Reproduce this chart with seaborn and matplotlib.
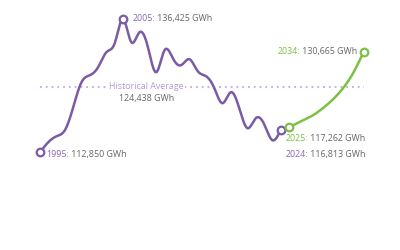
import numpy as np
import pandas as pd
import matplotlib
matplotlib.use("Agg")
import matplotlib.pyplot as plt
import seaborn as sns

# ---- data ----
hist_years = list(range(1995, 2025))
hist_values = [112850, 114620, 115680, 116750, 120800, 125240, 126480, 127900,
               130550, 132140, 136425, 132320, 134090, 131440, 127010, 130900,
               129490, 128250, 129310, 127190, 126300, 124180, 121520, 123470,
               120640, 117100, 118870, 117810, 114970, 116813]
fc_years = list(range(2025, 2035))
fc_values = [117262, 117980, 118690, 119490, 120550, 121790, 123290, 125150,
             127600, 130665]
avg_value = 124438

PURPLE = "#7b5aa6"
PURPLE_TXT = "#8a68b4"
GREEN = "#7cc143"
AVG_COL = "#c3a9dc"
GRAY = "#666666"


def smooth(xs, ys, n=20):
    """Natural cubic spline through the data points (for drawing only)."""
    xs = np.asarray(xs, float)
    ys = np.asarray(ys, float)
    k = len(xs)
    A = np.zeros((k, k))
    b = np.zeros(k)
    A[0, 0] = A[-1, -1] = 1
    for i in range(1, k - 1):
        A[i, i - 1], A[i, i], A[i, i + 1] = 1, 4, 1
        b[i] = 6 * (ys[i + 1] - 2 * ys[i] + ys[i - 1])
    M = np.linalg.solve(A, b)
    ox, oy = [], []
    t = np.linspace(0, 1, n, endpoint=False)
    for i in range(k - 1):
        s = 1 - t
        ox.extend(xs[i] + t * (xs[i + 1] - xs[i]))
        oy.extend(s * ys[i] + t * ys[i + 1]
                  + (s**3 - s) * M[i] / 6 + (t**3 - t) * M[i + 1] / 6)
    ox.append(xs[-1])
    oy.append(ys[-1])
    return pd.DataFrame({"year": ox, "value": oy})


sns.set_theme(style="white")
plt.rcParams["font.family"] = ["Open Sans", "DejaVu Sans"]
FS = 6.4

fig = plt.figure(figsize=(4, 2.5), dpi=100)
ax = fig.add_axes([0, 0, 1, 1])
ax.set_xlim(1990.18, 2038.37)
ax.set_ylim(95538, 139788)
ax.axis("off")

# average line
ax.plot([hist_years[0], fc_years[-1]], [avg_value, avg_value],
        ls=(0, (1, 2.2)), lw=1.3, color=AVG_COL, zorder=1)
ax.text(2007.8, avg_value, "Historical Average", ha="center", va="center",
        fontsize=FS, color="#b49ad0", zorder=2,
        bbox=dict(boxstyle="square,pad=0.2", fc="white", ec="none"))
ax.text(2007.8, avg_value - 2000, "124,438 GWh", ha="center", va="center",
        fontsize=FS, color=GRAY, zorder=2)

# lines
sns.lineplot(data=smooth(hist_years, hist_values), x="year", y="value",
             sort=False, estimator=None, color=PURPLE, lw=1.8, ax=ax, zorder=3)
sns.lineplot(data=smooth(fc_years, fc_values), x="year", y="value",
             sort=False, estimator=None, color=GREEN, lw=1.8, ax=ax, zorder=3)

# end markers
mk = dict(s=30, facecolor="white", linewidth=1.6, zorder=5)
ax.scatter([hist_years[0], hist_years[10], hist_years[-1]],
           [hist_values[0], hist_values[10], hist_values[-1]],
           edgecolor=PURPLE, **mk)
ax.scatter([fc_years[0], fc_years[-1]], [fc_values[0], fc_values[-1]],
           edgecolor=GREEN, **mk)


def label(x, y, year, rest, col, ha="left", dx=0, dy=0):
    if ha == "left":
        t1 = ax.annotate(f"{year}:", (x, y), xytext=(dx, dy),
                         textcoords="offset points", ha="left", va="center",
                         fontsize=FS, color=col)
        ax.annotate(f" {rest}", xy=(1, 0.5), xycoords=t1, ha="left",
                    va="center", fontsize=FS, color=GRAY)
    else:
        t2 = ax.annotate(f" {rest}", (x, y), xytext=(dx, dy),
                         textcoords="offset points", ha="right", va="center",
                         fontsize=FS, color=GRAY)
        ax.annotate(f"{year}:", xy=(0, 0.5), xycoords=t2, ha="right",
                    va="center", fontsize=FS, color=col)


label(hist_years[0], hist_values[0], 1995, "112,850 GWh", PURPLE_TXT, dx=4.5, dy=-2)
label(hist_years[10], hist_values[10], 2005, "136,425 GWh", PURPLE_TXT, dx=7, dy=0)
label(fc_years[-1], fc_values[-1], 2034, "130,665 GWh", GREEN, ha="right", dx=-4.5, dy=0)
label(fc_years[0], fc_values[0], 2025, "117,262 GWh", GREEN, dx=-2.5, dy=-8)
label(hist_years[-1], hist_values[-1], 2024, "116,813 GWh", PURPLE_TXT, dx=3.5, dy=-17.5)

fig.savefig("out.png", dpi=100, facecolor="white")
